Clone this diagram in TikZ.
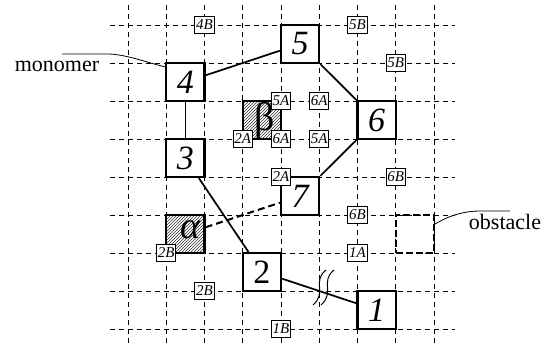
\documentclass[tikz,border=0pt]{standalone}
\usepackage{fontspec}
\setmainfont{Liberation Serif}
\usetikzlibrary{patterns}
\tikzset{
  gridline/.style={line width=0.9pt, dash pattern=on 5pt off 4pt},
  mono/.style={draw, line width=2.2pt, fill=white, minimum width=38.25pt, minimum height=38pt, inner sep=0pt,
    font=\fontsize{34}{34}\selectfont\itshape},
  hatchbox/.style={draw, line width=2.2pt, pattern=north east lines, pattern color=black!80, minimum width=38.25pt, minimum height=38pt, inner sep=0pt},
  obst/.style={draw, line width=2.2pt, dash pattern=on 7pt off 3pt, minimum width=38.25pt, minimum height=38pt, inner sep=0pt},
  tag/.style={draw, line width=0.9pt, fill=white, inner sep=1.3pt, minimum height=17pt, minimum width=19pt,
    font=\fontsize{15}{15}\selectfont\itshape},
  bond/.style={line width=1.7pt},
  lead/.style={line width=0.8pt},
  lbl/.style={font=\fontsize{22}{22}\selectfont}
}
\begin{document}
\begin{tikzpicture}[x=1pt,y=-1pt]
\useasboundingbox (0,0) rectangle (549,347);
% grid
\foreach \i in {0,...,8} {
  \draw[gridline] ({128+38.25*\i},5) -- ({128+38.25*\i},345);
  \draw[gridline] (110,{25+38*\i}) -- (455,{25+38*\i});
}
% hatched sites
\node[hatchbox] (alpha) at (185.4,234) {};
\node[font=\fontsize{38}{38}\selectfont\itshape] (alphal) at (190,230) {α};
\node[hatchbox] (beta) at (261.9,120) {};
\node[font=\fontsize{40}{40}\selectfont] (betal) at (265,121) {β};
\node[obst] (obs) at (414.9,234) {};
% monomers
\node[mono] (m4) at (185.4,82) {4};
\node[mono] (m5) at (300.1,44) {5};
\node[mono] (m6) at (376.6,120) {6};
\node[mono] (m3) at (185.4,158) {3};
\node[mono] (m7) at (300.1,196) {7};
\node[mono, font=\fontsize{34}{34}\selectfont] (m2) at (261.9,272) {2};
\node[mono] (m1) at (376.6,310) {1};
% bonds
\draw[bond] (m4) -- (m5);
\draw[bond] (m4) -- (m3);
\draw[bond] (m5) -- (m6);
\draw[bond] (m6) -- (m7);
\draw[bond] (m3) -- (m2);
\draw[bond] (m2) -- (m1);
\draw[line width=2pt, dash pattern=on 7pt off 4pt] (alpha) -- (m7);
% break mark
\draw[line width=1pt] (326,270) .. controls (312,281) and (327,293) .. (313,305);
\draw[line width=1pt] (334,270) .. controls (320,281) and (335,293) .. (321,305);
% small tags
\node[tag] (t4B) at (204.5,25) {4B};
\node[tag] (t5Ba) at (357.5,25) {5B};
\node[tag] (t5Bb) at (395.75,63) {5B};
\node[tag] (t5Aa) at (281,101) {5A};
\node[tag] (t6Aa) at (319.25,101) {6A};
\node[tag] (t2Aa) at (242.75,139) {2A};
\node[tag] (t6Ab) at (281,139) {6A};
\node[tag] (t5Ab) at (319.25,139) {5A};
\node[tag] (t2Ab) at (281,177) {2A};
\node[tag] (t6Ba) at (395.75,177) {6B};
\node[tag] (t6Bb) at (357.5,215) {6B};
\node[tag] (t1A) at (357.5,253) {1A};
\node[tag] (t1B) at (281,329) {1B};
\node[tag] (t2Ba) at (166.25,253) {2B};
\node[tag] (t2Bb) at (204.5,291) {2B};
% labels
\node[lbl] (mon) at (57,66) {monomer};
\coordinate (monA) at (62,54);
\draw[lead] (monA) -- (107,54) .. controls (125,54) and (145,62) .. ([yshift=-5pt]m4.north west);
\node[lbl] (obsl) at (505,222) {obstacle};
\coordinate (obsA) at (510,211);
\draw[lead] ([yshift=10pt]obs.east) .. controls (450,215) and (465,211) .. (480,211) -- (obsA);
\end{tikzpicture}
\end{document}
